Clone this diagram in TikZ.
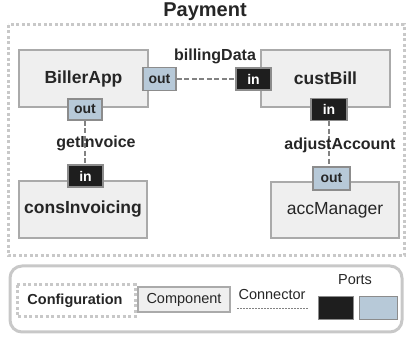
\documentclass[tikz,border=0pt]{standalone}
\usepackage{fontspec}
\setmainfont{Liberation Sans}
\definecolor{compfill}{RGB}{239,239,239}
\definecolor{compdraw}{RGB}{170,170,170}
\definecolor{portblue}{RGB}{183,201,216}
\definecolor{portblack}{RGB}{30,30,30}
\definecolor{portdraw}{RGB}{140,140,140}
\definecolor{dotgray}{RGB}{200,200,200}
\definecolor{conngray}{RGB}{130,130,130}
\tikzset{
  comp/.style={draw=compdraw, fill=compfill, line width=2.5pt, inner sep=0pt, anchor=center, text=black!85},
  compname/.style={font=\fontsize{17.5}{20}\selectfont\bfseries},
  portbase/.style={draw=portdraw, line width=1.5pt, inner sep=0pt, font=\fontsize{14}{16}\selectfont\bfseries},
  outport/.style={portbase, fill=portblue, text=black!85},
  inport/.style={portbase, fill=portblack, text=white},
  conn/.style={draw=conngray, line width=2pt, dash pattern=on 5pt off 2.5pt},
  clabel/.style={font=\fontsize{16}{18}\selectfont\bfseries, text=black!85, inner sep=0pt},
  dotbox/.style={draw=dotgray, line width=3pt, dash pattern=on 3pt off 2.5pt},
  legtext/.style={font=\fontsize{14.5}{17}\selectfont, text=black!85, inner sep=0pt}
}
\begin{document}
\begin{tikzpicture}[x=1pt,y=-1pt]
\useasboundingbox (0,0) rectangle (408,339);
% outer configuration
\draw[dotbox] (8,25) rectangle (404,256);
\node[font=\fontsize{20}{22}\selectfont\bfseries, text=black!85, inner sep=0pt] (title) at (205,12) {Payment};
% components
\node[comp, compname, minimum width=129pt, minimum height=57pt] (biller) at (83.5,78.5) {BillerApp};
\node[comp, compname, minimum width=129pt, minimum height=57pt] (cust) at (325.5,78.5) {custBill};
\node[comp, compname, minimum width=128pt, minimum height=57pt] (cons) at (83,209.5) {consInvoicing};
\node[comp, font=\fontsize{17.5}{20}\selectfont, minimum width=128pt, minimum height=56pt] (acc) at (335,210) {accManager};
% ports
\node[outport, minimum width=33pt, minimum height=23pt] (bout) at (159.5,79) {out};
\node[outport, minimum width=34pt, minimum height=21pt] (bout2) at (85,109.5) {out};
\node[inport, minimum width=35pt, minimum height=22pt] (cin) at (253.5,79) {in};
\node[inport, minimum width=36pt, minimum height=22pt] (cin2) at (329,109.5) {in};
\node[inport, minimum width=35pt, minimum height=22pt] (ciin) at (85.5,176) {in};
\node[outport, minimum width=37pt, minimum height=23pt] (aout) at (331.5,178.5) {out};
% connectors
\draw[conn] (bout.east) -- (cin.west);
\draw[conn] (bout2.south) -- (bout2.south |- ciin.north);
\draw[conn] (cin2.south) -- (cin2.south |- aout.north);
\node[clabel] (lbill) at (215,56) {billingData};
\node[clabel] (lget) at (96,143) {getInvoice};
\node[clabel] (ladj) at (340,145) {adjustAccount};
% legend
\draw[draw=dotgray, line width=3pt, rounded corners=12pt] (10,266) rectangle (402,332);
\draw[dotbox] (17,285) rectangle (135,317);
\node[legtext, font=\fontsize{14.5}{17}\selectfont\bfseries] (lconf) at (75,301) {Configuration};
\node[comp, legtext, minimum width=92pt, minimum height=25pt] (lcomp) at (184,299.5) {Component};
\node[legtext] (lconn) at (272,295) {Connector};
\coordinate (lc1) at (237,308);
\coordinate (lc2) at (308,308);
\draw[draw=conngray, line width=0.8pt, dash pattern=on 2pt off 1pt] (lc1) -- (lc2);
\node[legtext] (lports) at (355,280) {Ports};
\node[draw=portdraw, line width=1pt, fill=portblack, minimum width=35pt, minimum height=23pt, inner sep=0pt] (lblack) at (335.5,308.5) {};
\node[draw=portdraw, line width=1pt, fill=portblue, minimum width=38pt, minimum height=23pt, inner sep=0pt] (lblue) at (378,308.5) {};
\end{tikzpicture}
\end{document}
